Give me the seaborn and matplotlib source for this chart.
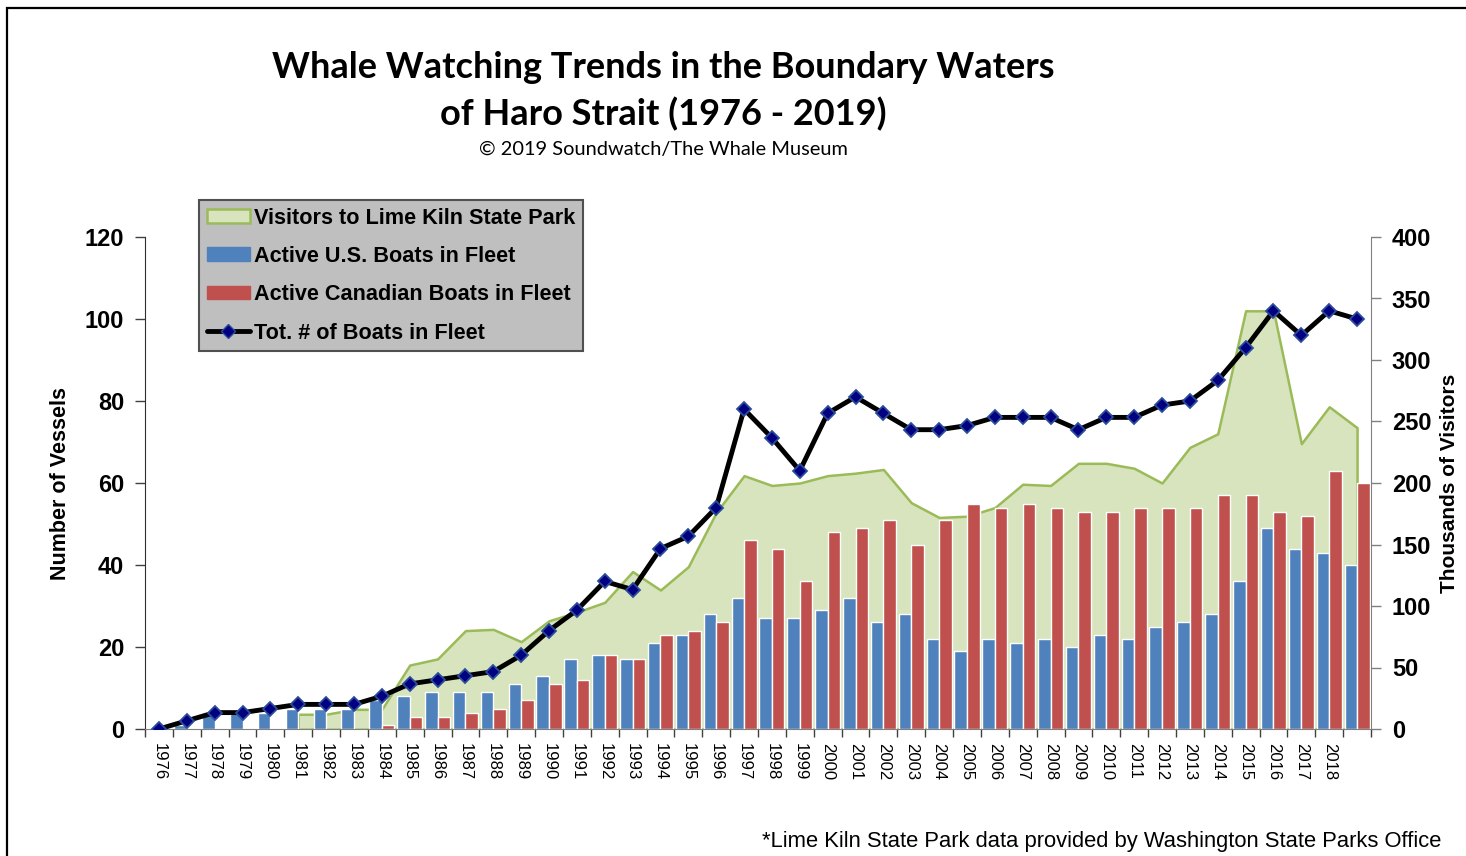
import numpy as np
import pandas as pd
import matplotlib
matplotlib.use("Agg")
import matplotlib.pyplot as plt
from matplotlib.patches import Patch, Rectangle
from matplotlib.lines import Line2D
from matplotlib.ticker import FixedLocator, NullFormatter
import seaborn as sns

# data
years = list(range(1976, 2020))
us_boats = [0, 1, 4, 4, 4, 5, 5, 5, 7, 8, 9, 9, 9, 11, 13, 17, 18, 17, 21, 23, 28, 32,
            27, 27, 29, 32, 26, 28, 22, 19, 22, 21, 22, 20, 23, 22, 25, 26, 28, 36,
            49, 44, 43, 40]
ca_boats = [0, 0, 0, 0, 0, 0, 0, 0, 1, 3, 3, 4, 5, 7, 11, 12, 18, 17, 23, 24, 26, 46,
            44, 36, 48, 49, 51, 45, 51, 55, 54, 55, 54, 53, 53, 54, 54, 54, 57, 57,
            53, 52, 63, 60]
total_boats = [0, 2, 4, 4, 5, 6, 6, 6, 8, 11, 12, 13, 14, 18, 24, 29, 36, 34, 44, 47,
               54, 78, 71, 63, 77, 81, 77, 73, 73, 74, 76, 76, 76, 73, 76, 76, 79, 80,
               85, 93, 102, 96, 102, 100]
visitor_years = list(range(1981, 2020))
visitors_k = [12, 12, 16, 16, 52, 57, 80, 81, 71, 88, 95, 103, 128, 113, 132, 176, 206,
              198, 200, 206, 208, 211, 184, 172, 173, 180, 199, 198, 216, 216, 212, 200,
              229, 240, 340, 340, 232, 262, 245]
tick_labels = [str(y) for y in years[:-1]] + [""]

BLUE = "#4F81BD"
RED = "#C0504D"
GREEN_FILL = "#D7E4BD"
GREEN_EDGE = "#9BBB59"
NAVY = "#000080"

sns.set_style("white")
plt.rcParams["font.family"] = ["Liberation Sans", "DejaVu Sans"]
plt.rcParams["text.color"] = "black"
plt.rcParams["axes.labelcolor"] = "black"
plt.rcParams["xtick.color"] = "black"
plt.rcParams["ytick.color"] = "black"

cats = [str(y) for y in years]
bars_df = pd.DataFrame({
    "year": cats * 2,
    "boats": us_boats + ca_boats,
    "fleet": ["Active U.S. Boats in Fleet"] * len(years)
             + ["Active Canadian Boats in Fleet"] * len(years),
})

fig = plt.figure(figsize=(14.66, 8.56), dpi=100)
ax = fig.add_axes([145 / 1466, 1 - 729 / 856, (1371 - 145) / 1466, (729 - 237) / 856])

sns.barplot(data=bars_df, x="year", y="boats", hue="fleet", order=cats,
            palette=[BLUE, RED], saturation=1, width=0.9, legend=False,
            errorbar=None, ax=ax, zorder=2)

sns.pointplot(x=cats, y=total_boats, order=cats, color="black", errorbar=None,
              markers="D", linewidth=3.5, markersize=7.5, markeredgewidth=1.3,
              markerfacecolor=NAVY, markeredgecolor="#2B4C9B", ax=ax, zorder=5)

# visitors area on the secondary axis, drawn behind the bars
axr = ax.twinx()
axr.set_zorder(ax.get_zorder() - 1)
ax.patch.set_visible(False)
vx = np.array([years.index(y) for y in visitor_years])
axr.fill_between(vx, 0, visitors_k, facecolor=GREEN_FILL, edgecolor=GREEN_EDGE,
                 linewidth=1.8)

n = len(years)
ax.set_xlim(-0.5, n - 0.5)
ax.set_ylim(0, 120)
axr.set_ylim(0, 400)

ax.set_yticks(range(0, 121, 20))
axr.set_yticks(range(0, 401, 50))
ax.set_xticks(range(n))
ax.set_xticklabels(tick_labels, rotation=-90, fontsize=12)
ax.xaxis.set_minor_locator(FixedLocator(np.arange(-0.5, n, 1.0)))
ax.xaxis.set_minor_formatter(NullFormatter())
ax.tick_params(axis="x", which="major", length=0, pad=10, labelcolor="black")
ax.tick_params(axis="x", which="minor", length=6, width=1, color="#404040",
               direction="out", bottom=True)
ax.tick_params(axis="y", length=7, width=1, color="#404040", direction="out",
               left=True, pad=8, labelsize=17, labelcolor="black")
axr.tick_params(axis="y", length=7, width=1, color="#808080", direction="out",
                right=True, pad=8, labelsize=17, labelcolor="black")
for lab in ax.get_yticklabels() + axr.get_yticklabels():
    lab.set_fontweight("bold")

ax.set_xlabel("")
ax.set_ylabel("Number of Vessels", fontsize=15.5, fontweight="bold", labelpad=10)
axr.set_ylabel("Thousands of Visitors", fontsize=15, fontweight="bold", labelpad=6)

for sp in ["top", "right"]:
    ax.spines[sp].set_visible(False)
for sp in ["top", "left", "bottom"]:
    axr.spines[sp].set_visible(False)
ax.spines["left"].set_color("#303030")
ax.spines["bottom"].set_color("#808080")
axr.spines["right"].set_color("#808080")

handles = [
    Patch(facecolor=GREEN_FILL, edgecolor=GREEN_EDGE, linewidth=1.8),
    Patch(facecolor=BLUE, edgecolor=BLUE),
    Patch(facecolor=RED, edgecolor=RED),
    Line2D([], [], color="black", linewidth=3.5, marker="D", markersize=7.5,
           markerfacecolor=NAVY, markeredgecolor="#2B4C9B"),
]
labels = ["Visitors to Lime Kiln State Park", "Active U.S. Boats in Fleet",
          "Active Canadian Boats in Fleet", "Tot. # of Boats in Fleet"]
leg = ax.legend(handles, labels, loc="upper left",
                bbox_to_anchor=(199 / 1466, 1 - 200 / 856),
                bbox_transform=fig.transFigure, borderaxespad=0,
                prop={"weight": "bold", "size": 15.6}, facecolor="#BFBFBF",
                edgecolor="#505050", framealpha=1, fancybox=False,
                handlelength=2.0, handleheight=0.6, handletextpad=0.2,
                labelspacing=0.8, borderpad=0.35)
leg.get_frame().set_linewidth(1.5)

fig.text(663 / 1466, 1 - 68 / 856, "Whale Watching Trends in the Boundary Waters",
         ha="center", va="center", fontsize=26, fontweight="bold", family="Lato")
fig.text(663 / 1466, 1 - 114 / 856, "of Haro Strait (1976 - 2019)",
         ha="center", va="center", fontsize=26, fontweight="bold", family="Lato")
fig.text(663 / 1466, 1 - 150 / 856, "\u00a9 2019 Soundwatch/The Whale Museum",
         ha="center", va="center", fontsize=14.4, family="Lato")
fig.text(1441 / 1466, 1 - 841 / 856,
         "*Lime Kiln State Park data provided by Washington State Parks Office",
         ha="right", va="center", fontsize=15.8)

fig.add_artist(Rectangle((7 / 1466, -0.1), 2, 1.1 - 8 / 856, transform=fig.transFigure,
                         fill=False, edgecolor="black", linewidth=1.6))

fig.savefig("out.png", dpi=100)
